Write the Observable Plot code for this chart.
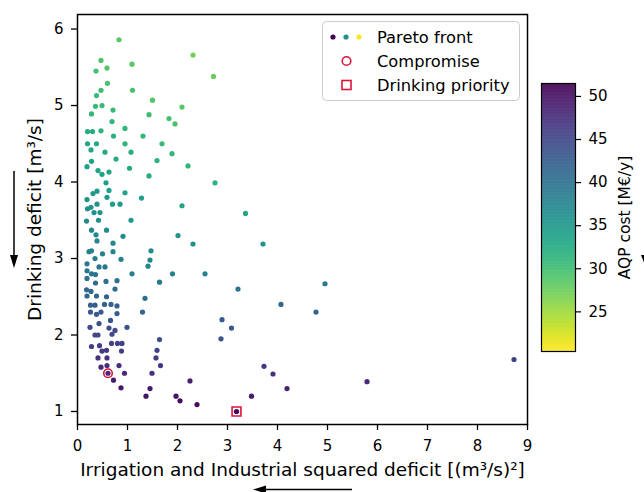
<!DOCTYPE html>
<html><head><meta charset="utf-8">
<script src="https://cdn.jsdelivr.net/npm/d3@7"></script>
<script src="https://cdn.jsdelivr.net/npm/@observablehq/plot@0.6"></script>
<style>
html,body{margin:0;padding:0;background:#fff;}
#wrap{position:relative;width:644px;height:492px;overflow:hidden;font-family:"DejaVu Sans";}
#wrap svg{position:absolute;left:0;top:0;}
</style></head><body><div id="wrap"></div>
<script>
// Pareto front solutions
const irrigationDeficit = [
0.83,2.31,0.47,1.09,0.59,0.37,2.72,0.60,0.47,1.10,0.38,1.50,0.36,0.49,0.71,2.09,0.28,1.43,0.69,1.83,
1.95,0.95,0.20,0.30,0.47,0.72,1.31,0.20,0.38,0.95,1.69,0.27,0.55,1.07,1.89,0.77,1.59,0.28,0.19,1.04,
2.21,0.41,0.63,0.49,1.43,2.75,0.57,0.39,0.31,0.63,0.95,1.28,0.19,0.59,0.39,0.70,0.85,2.09,0.20,0.27,
3.36,0.33,0.45,0.18,0.42,1.07,0.28,0.58,0.37,0.91,2.01,0.39,0.71,2.31,3.71,0.23,0.28,0.50,0.71,1.47,
0.35,0.87,1.45,0.19,0.43,0.55,1.41,0.19,0.28,0.36,1.09,1.90,2.55,0.19,0.36,0.57,0.79,1.64,4.95,3.21,
0.18,0.27,0.75,0.19,0.38,0.58,1.35,4.07,0.26,0.35,0.54,0.67,0.79,0.26,0.38,0.47,0.79,1.30,4.77,2.89,
0.66,0.43,0.25,0.63,0.99,3.08,0.75,0.35,0.41,0.69,1.64,2.87,0.28,0.44,0.68,0.80,0.89,0.49,0.58,0.88,
1.59,8.73,0.41,0.59,1.57,0.47,0.59,0.83,1.66,3.73,0.61,0.94,1.49,3.91,0.72,2.25,5.79,0.87,1.45,4.19,
1.37,1.97,3.48,2.05,2.39,3.18];
const drinkingDeficit = [
5.86,5.66,5.59,5.54,5.49,5.45,5.38,5.29,5.20,5.20,5.13,5.07,4.99,5.00,4.94,4.98,4.89,4.88,4.79,4.83,
4.76,4.70,4.66,4.66,4.67,4.60,4.60,4.50,4.50,4.50,4.50,4.42,4.39,4.39,4.37,4.30,4.28,4.27,4.20,4.18,
4.21,4.15,4.13,4.10,4.08,3.99,3.99,3.88,3.85,3.89,3.86,3.79,3.77,3.80,3.71,3.71,3.71,3.69,3.65,3.67,
3.59,3.60,3.60,3.49,3.50,3.50,3.37,3.37,3.31,3.29,3.30,3.23,3.20,3.19,3.19,3.09,3.10,3.06,3.09,3.10,
3.00,2.99,2.98,2.93,2.89,2.89,2.90,2.84,2.80,2.79,2.80,2.80,2.80,2.74,2.68,2.70,2.71,2.69,2.67,2.60,
2.59,2.57,2.60,2.51,2.51,2.50,2.48,2.40,2.39,2.39,2.40,2.40,2.38,2.30,2.27,2.30,2.28,2.30,2.30,2.20,
2.19,2.15,2.10,2.09,2.10,2.09,2.06,2.00,2.00,2.01,1.94,1.95,1.85,1.86,1.89,1.89,1.89,1.79,1.80,1.79,
1.80,1.68,1.70,1.70,1.70,1.58,1.60,1.60,1.60,1.59,1.50,1.50,1.50,1.49,1.41,1.40,1.39,1.31,1.30,1.30,
1.20,1.20,1.20,1.14,1.09,1.00];
const aqpCost = [
28.5,27.0,29.0,28.5,29.0,29.5,27.5,29.5,30.0,29.5,30.5,29.0,30.5,30.5,30.5,28.5,31.0,30.0,31.0,29.5,
29.5,31.0,32.5,32.5,31.5,31.5,31.0,33.0,32.5,31.5,30.5,33.0,32.5,32.0,31.0,32.5,31.5,33.5,34.0,32.5,
31.0,33.5,33.5,33.5,32.5,31.5,34.0,34.5,35.0,34.0,33.5,34.0,35.5,34.5,35.5,34.5,34.5,33.5,36.0,35.5,
33.0,36.0,35.5,36.5,36.0,35.0,37.0,36.5,37.0,36.5,35.5,37.5,37.0,36.0,35.5,38.0,38.0,38.0,37.5,36.5,
38.5,38.0,37.0,39.0,39.0,39.0,37.5,39.5,39.5,39.5,38.5,38.0,38.0,40.0,40.5,40.0,40.0,39.0,39.0,39.5,
41.0,41.0,40.5,41.5,41.5,41.5,40.5,41.0,42.5,42.5,42.0,42.0,42.0,43.0,43.0,43.0,42.5,41.5,41.5,42.5,
43.5,44.0,44.5,44.0,43.5,43.0,44.5,45.0,45.0,44.5,44.0,43.5,46.0,46.0,45.5,45.5,45.5,46.5,46.5,46.0,
45.5,45.5,47.0,47.0,46.0,48.0,47.5,47.5,46.5,46.5,48.0,48.0,47.5,47.0,49.0,48.5,48.0,49.5,49.5,48.5,
50.0,50.0,49.5,50.5,50.5,51.0];
const compromise = [{x: 0.61, y: 1.50}];
const drinkingPriority = [{x: 3.18, y: 1.00}];
const xTicks = [0,1,2,3,4,5,6,7,8,9];
const yTicks = [1,2,3,4,5,6];
const costTicks = [25,30,35,40,45,50];
const xLabel = "Irrigation and Industrial squared deficit [(m³/s)²]";
const yLabel = "Drinking deficit [m³/s]";
const cLabel = "AQP cost [M€/y]";
const legendLabels = ["Pareto front","Compromise","Drinking priority"];

const points = irrigationDeficit.map((x,i)=>({x, y: drinkingDeficit[i], c: aqpCost[i]}));
const colorOpts = {type:"linear", scheme:"viridis", reverse:true, domain:[20.4,51.5]};
const RED = "#dc143c";
const baseStyle = {fontFamily:"DejaVu Sans", fontSize:"15px", color:"#000", background:"transparent", overflow:"visible"};

const main = Plot.plot({
  width:644, height:492, marginLeft:77, marginRight:117, marginTop:14, marginBottom:68,
  style: baseStyle,
  x:{domain:[0,9]}, y:{domain:[0.83,6.19]}, color: colorOpts,
  marks:[
    Plot.dot(points,{x:"x",y:"y",fill:"c",r:2.6}),
    Plot.dot(compromise,{x:"x",y:"y",r:4.3,stroke:RED,strokeWidth:1.6,fill:"none"}),
    Plot.dot(drinkingPriority,{x:"x",y:"y",symbol:"square",r:5,stroke:RED,strokeWidth:1.6,fill:"none"}),
    Plot.frame({stroke:"#000",strokeWidth:1.5}),
    Plot.axisX({ticks:xTicks,tickSize:6,tickPadding:10,tickFormat:d=>String(d),label:null,strokeWidth:1.3}),
    Plot.axisY({ticks:yTicks,tickSize:6,tickPadding:8,tickFormat:d=>String(d),label:null,strokeWidth:1.3}),
    Plot.text([xLabel],{text:d=>d,frameAnchor:"bottom",dy:46,lineAnchor:"middle",textAnchor:"middle",fontSize:18.5}),
    Plot.text([yLabel],{text:d=>d,frameAnchor:"left",dx:-42,rotate:-90,lineAnchor:"middle",textAnchor:"middle",fontSize:18.5})
  ]
});

const bands = d3.range(20.4, 51.5, 0.05);
const cbar = Plot.plot({
  width:644, height:492, marginLeft:541, marginRight:69, marginTop:83, marginBottom:141,
  style: baseStyle,
  x:{domain:[0,1], axis:null}, y:{domain:[20.4,51.5]}, color: colorOpts,
  marks:[
    Plot.rect(bands,{x1:0,x2:1,y1:d=>d,y2:d=>Math.min(51.5,d+0.08),fill:d=>d}),
    Plot.frame({stroke:"#000",strokeWidth:1.2}),
    Plot.axisY({anchor:"right",ticks:costTicks,tickSize:5,tickPadding:8,tickFormat:d=>String(d),label:null,strokeWidth:1.2}),
    Plot.text([cLabel],{text:d=>d,frameAnchor:"right",dx:50,rotate:-90,lineAnchor:"middle",textAnchor:"middle",fontSize:15.5})
  ]
});

const wrap = document.getElementById("wrap");
wrap.appendChild(main);
wrap.appendChild(cbar);

// annotations: arrows and legend
const svg = d3.select(cbar);
const color = main.scale("color");
const ann = svg.append("g");
ann.append("line").attr("x1",14).attr("y1",171).attr("x2",14).attr("y2",258).attr("stroke","#000").attr("stroke-width",1.5);
ann.append("polygon").attr("points","14,268 10,255 18,255").attr("fill","#000");
ann.append("line").attr("x1",352).attr("y1",489.5).attr("x2",263).attr("y2",489.5).attr("stroke","#000").attr("stroke-width",1.5);
ann.append("polygon").attr("points","253,489.5 266,485.5 266,493.5").attr("fill","#000");
ann.append("polygon").attr("points","645,265 641,255 649,255").attr("fill","#000");

const lg = svg.append("g").attr("font-family","DejaVu Sans").attr("font-size",16.3).attr("text-anchor","start");
lg.append("rect").attr("x",322.5).attr("y",21.5).attr("width",197).attr("height",79).attr("rx",4)
  .attr("fill","#fff").attr("fill-opacity",0.8).attr("stroke","#cccccc");
[[333,51.5],[346,36],[359,20.4]].forEach(([cx,v])=>{
  lg.append("circle").attr("cx",cx).attr("cy",37).attr("r",2.6).attr("fill",color.apply(v));
});
lg.append("circle").attr("cx",346.5).attr("cy",61).attr("r",4.3).attr("fill","none").attr("stroke",RED).attr("stroke-width",1.6);
lg.append("rect").attr("x",342).attr("y",80.5).attr("width",9).attr("height",9).attr("fill","none").attr("stroke",RED).attr("stroke-width",1.6);
legendLabels.forEach((t,i)=>{
  lg.append("text").attr("x",377).attr("y",37+24*i).attr("dy","0.35em").attr("text-anchor","start").text(t);
});
</script></body></html>
